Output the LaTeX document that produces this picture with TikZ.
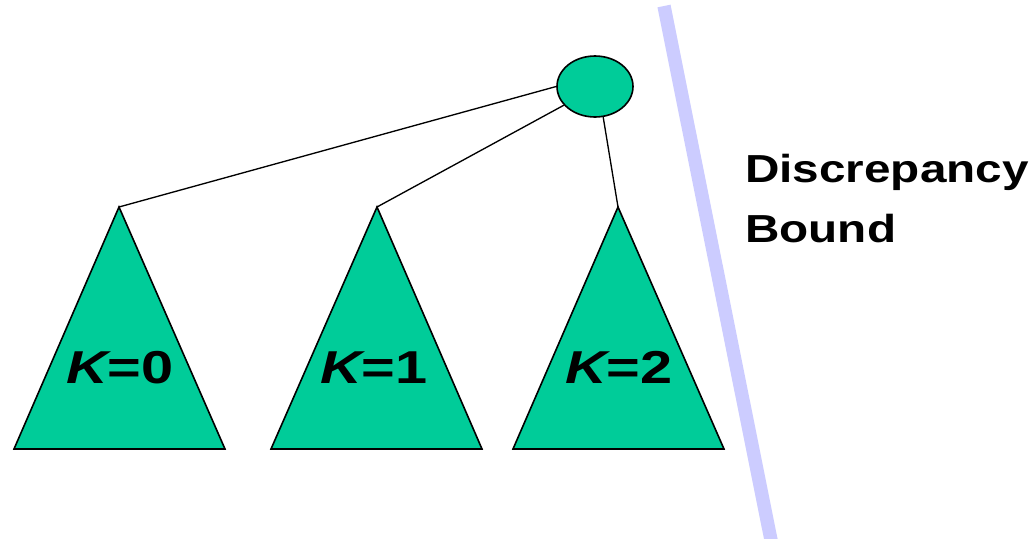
\documentclass[tikz,border=0pt]{standalone}
\usepackage{fontspec}
\setmainfont{Liberation Sans}
\newfontfamily\widesans[FakeStretch=1.25]{Liberation Sans}
\newfontfamily\bandsans[FakeStretch=1.22]{Liberation Sans}
\usetikzlibrary{positioning,shapes.geometric}
\definecolor{treegreen}{RGB}{0,204,153}
\definecolor{boundblue}{RGB}{204,204,255}

\begin{document}
\begin{tikzpicture}[
  x=0.75pt,y=-0.75pt,
  subtree/.style={draw=black,line width=1.2pt,fill=treegreen,line join=miter},
  root/.style={ellipse,draw=black,line width=1.2pt,fill=treegreen,
               minimum width=57pt,minimum height=45.75pt,inner sep=0pt},
  edge/.style={draw=black,line width=1pt},
  klabel/.style={anchor=base,inner sep=0pt,font=\widesans\bfseries\fontsize{34.6}{40}\selectfont},
]
\clip (0,0) rectangle (1033,539);
% discrepancy bound line
\draw[boundblue,line width=10pt] (664,6) -- (772,545);
% the three subtrees
\coordinate (t0) at (119,207);
\coordinate (t1) at (377,207);
\coordinate (t2) at (618,207);
\draw[subtree] (t0) -- (14,449) -- (225,449) -- cycle;
\draw[subtree] (t1) -- (271,449) -- (482,449) -- cycle;
\draw[subtree] (t2) -- (513,449) -- (724,449) -- cycle;
\node[klabel] (k0) at (120,383) {\itshape K\upshape =0};
\node[klabel] (k1) at (374,383) {\itshape K\upshape =1};
\node[klabel] (k2) at (619,383) {\itshape K\upshape =2};
% root and its edges
\node[root] (r) at (595,86.5) {};
\draw[edge] (r.west) -- (t0);
\draw[edge] (r.211) -- (t1);
\draw[edge] (r.285) -- (t2);
\node[anchor=base west,inner sep=0pt,align=left,
      font=\bandsans\bfseries\fontsize{29.3}{44.3}\selectfont] (db) at (745,242)
  {Discrepancy\\Bound};
\end{tikzpicture}
\end{document}
